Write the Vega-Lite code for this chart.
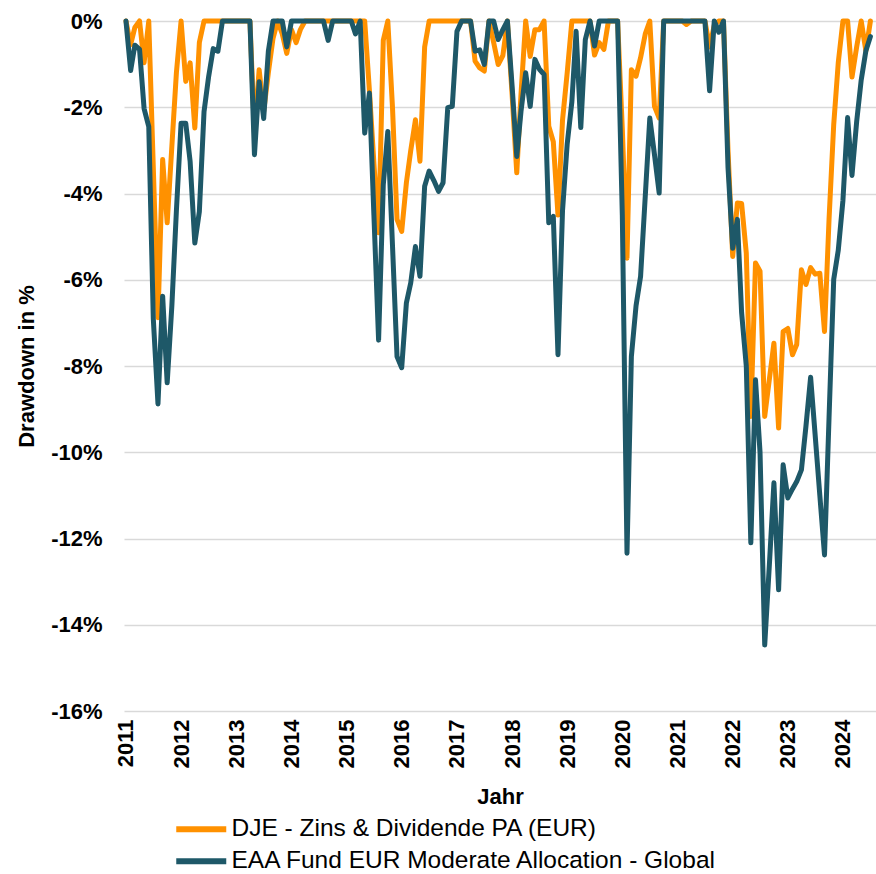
{
  "$schema": "https://vega.github.io/schema/vega-lite/v6.json",
  "autosize": {"type": "none"},
  "width": 752,
  "height": 690,
  "padding": {"left": 124, "top": 21, "right": 0, "bottom": 163},
  "background": "white",
  "config": {
    "font": "Liberation Sans",
    "view": {"stroke": null},
    "axis": {"labelColor": "#000000", "titleColor": "#000000", "labelFont": "Liberation Sans", "titleFont": "Liberation Sans"}
  },
  "data": {"values": [
    {"d":"2011-01-01","DJE":0,"EAA":0},
    {"d":"2011-02-01","DJE":-0.55,"EAA":-1.15},
    {"d":"2011-03-01","DJE":-0.15,"EAA":-0.56},
    {"d":"2011-04-01","DJE":0,"EAA":-0.66},
    {"d":"2011-05-01","DJE":-0.97,"EAA":-2.03},
    {"d":"2011-06-01","DJE":0,"EAA":-2.45},
    {"d":"2011-07-01","DJE":-3.4,"EAA":-6.9},
    {"d":"2011-08-01","DJE":-6.88,"EAA":-8.88},
    {"d":"2011-09-01","DJE":-3.21,"EAA":-6.38},
    {"d":"2011-10-01","DJE":-4.68,"EAA":-8.39},
    {"d":"2011-11-01","DJE":-2.9,"EAA":-6.6},
    {"d":"2011-12-01","DJE":-1.2,"EAA":-4.4},
    {"d":"2012-01-01","DJE":0,"EAA":-2.37},
    {"d":"2012-02-01","DJE":-1.4,"EAA":-2.37},
    {"d":"2012-03-01","DJE":-0.97,"EAA":-3.26},
    {"d":"2012-04-01","DJE":-2.48,"EAA":-5.15},
    {"d":"2012-05-01","DJE":-0.5,"EAA":-4.42},
    {"d":"2012-06-01","DJE":0,"EAA":-2.1},
    {"d":"2012-07-01","DJE":0,"EAA":-1.3},
    {"d":"2012-08-01","DJE":0,"EAA":-0.64},
    {"d":"2012-09-01","DJE":0,"EAA":-0.7},
    {"d":"2012-10-01","DJE":0,"EAA":0},
    {"d":"2012-11-01","DJE":0,"EAA":0},
    {"d":"2012-12-01","DJE":0,"EAA":0},
    {"d":"2013-01-01","DJE":0,"EAA":0},
    {"d":"2013-02-01","DJE":0,"EAA":0},
    {"d":"2013-03-01","DJE":0,"EAA":0},
    {"d":"2013-04-01","DJE":0,"EAA":0},
    {"d":"2013-05-01","DJE":-2.6,"EAA":-3.1},
    {"d":"2013-06-01","DJE":-1.13,"EAA":-1.41},
    {"d":"2013-07-01","DJE":-2.1,"EAA":-2.26},
    {"d":"2013-08-01","DJE":-1.2,"EAA":-0.7},
    {"d":"2013-09-01","DJE":-0.4,"EAA":0},
    {"d":"2013-10-01","DJE":0,"EAA":0},
    {"d":"2013-11-01","DJE":-0.3,"EAA":0},
    {"d":"2013-12-01","DJE":-0.75,"EAA":-0.6},
    {"d":"2014-01-01","DJE":-0.2,"EAA":0},
    {"d":"2014-02-01","DJE":-0.5,"EAA":0},
    {"d":"2014-03-01","DJE":-0.2,"EAA":0},
    {"d":"2014-04-01","DJE":0,"EAA":0},
    {"d":"2014-05-01","DJE":0,"EAA":0},
    {"d":"2014-06-01","DJE":0,"EAA":0},
    {"d":"2014-07-01","DJE":0,"EAA":0},
    {"d":"2014-08-01","DJE":0,"EAA":0},
    {"d":"2014-09-01","DJE":0,"EAA":-0.45},
    {"d":"2014-10-01","DJE":0,"EAA":0},
    {"d":"2014-11-01","DJE":0,"EAA":0},
    {"d":"2014-12-01","DJE":0,"EAA":0},
    {"d":"2015-01-01","DJE":0,"EAA":0},
    {"d":"2015-02-01","DJE":0,"EAA":0},
    {"d":"2015-03-01","DJE":0,"EAA":-0.3},
    {"d":"2015-04-01","DJE":0,"EAA":0},
    {"d":"2015-05-01","DJE":0,"EAA":-2.6},
    {"d":"2015-06-01","DJE":-1.6,"EAA":-1.67},
    {"d":"2015-07-01","DJE":-3.3,"EAA":-4.5},
    {"d":"2015-08-01","DJE":-4.91,"EAA":-7.4},
    {"d":"2015-09-01","DJE":-0.45,"EAA":-3.8},
    {"d":"2015-10-01","DJE":0,"EAA":-2.56},
    {"d":"2015-11-01","DJE":-2.0,"EAA":-5.2},
    {"d":"2015-12-01","DJE":-4.6,"EAA":-7.78},
    {"d":"2016-01-01","DJE":-4.88,"EAA":-8.04},
    {"d":"2016-02-01","DJE":-3.75,"EAA":-6.54},
    {"d":"2016-03-01","DJE":-3.0,"EAA":-6.07},
    {"d":"2016-04-01","DJE":-2.29,"EAA":-5.23},
    {"d":"2016-05-01","DJE":-3.25,"EAA":-5.92},
    {"d":"2016-06-01","DJE":-0.6,"EAA":-3.83},
    {"d":"2016-07-01","DJE":0,"EAA":-3.48},
    {"d":"2016-08-01","DJE":0,"EAA":-3.7},
    {"d":"2016-09-01","DJE":0,"EAA":-3.95},
    {"d":"2016-10-01","DJE":0,"EAA":-3.75},
    {"d":"2016-11-01","DJE":0,"EAA":-2.01},
    {"d":"2016-12-01","DJE":0,"EAA":-1.98},
    {"d":"2017-01-01","DJE":0,"EAA":-0.24},
    {"d":"2017-02-01","DJE":0,"EAA":0},
    {"d":"2017-03-01","DJE":0,"EAA":0},
    {"d":"2017-04-01","DJE":0,"EAA":0},
    {"d":"2017-05-01","DJE":-0.93,"EAA":-0.7},
    {"d":"2017-06-01","DJE":-1.09,"EAA":-0.67},
    {"d":"2017-07-01","DJE":-1.16,"EAA":-1.01},
    {"d":"2017-08-01","DJE":0,"EAA":0},
    {"d":"2017-09-01","DJE":-0.5,"EAA":0},
    {"d":"2017-10-01","DJE":-1.01,"EAA":-0.43},
    {"d":"2017-11-01","DJE":-0.8,"EAA":-0.2},
    {"d":"2017-12-01","DJE":0,"EAA":0},
    {"d":"2018-01-01","DJE":-1.7,"EAA":-1.5},
    {"d":"2018-02-01","DJE":-3.52,"EAA":-3.14},
    {"d":"2018-03-01","DJE":-1.7,"EAA":-2.1},
    {"d":"2018-04-01","DJE":0,"EAA":-1.2},
    {"d":"2018-05-01","DJE":-0.82,"EAA":-1.98},
    {"d":"2018-06-01","DJE":-0.2,"EAA":-0.89},
    {"d":"2018-07-01","DJE":-0.2,"EAA":-1.12},
    {"d":"2018-08-01","DJE":0,"EAA":-1.24},
    {"d":"2018-09-01","DJE":-2.44,"EAA":-4.68},
    {"d":"2018-10-01","DJE":-2.8,"EAA":-4.53},
    {"d":"2018-11-01","DJE":-4.5,"EAA":-7.74},
    {"d":"2018-12-01","DJE":-2.3,"EAA":-4.4},
    {"d":"2019-01-01","DJE":-1.2,"EAA":-2.85},
    {"d":"2019-02-01","DJE":0,"EAA":-1.87},
    {"d":"2019-03-01","DJE":0,"EAA":-0.24},
    {"d":"2019-04-01","DJE":0,"EAA":-2.47},
    {"d":"2019-05-01","DJE":0,"EAA":-0.43},
    {"d":"2019-06-01","DJE":0,"EAA":0},
    {"d":"2019-07-01","DJE":-0.79,"EAA":-0.58},
    {"d":"2019-08-01","DJE":-0.5,"EAA":0},
    {"d":"2019-09-01","DJE":-0.66,"EAA":0},
    {"d":"2019-10-01","DJE":0,"EAA":0},
    {"d":"2019-11-01","DJE":0,"EAA":0},
    {"d":"2019-12-01","DJE":0,"EAA":0},
    {"d":"2020-01-01","DJE":-2.5,"EAA":-4.5},
    {"d":"2020-02-01","DJE":-5.5,"EAA":-12.34},
    {"d":"2020-03-01","DJE":-1.13,"EAA":-7.78},
    {"d":"2020-04-01","DJE":-1.28,"EAA":-6.6},
    {"d":"2020-05-01","DJE":-0.85,"EAA":-5.92},
    {"d":"2020-06-01","DJE":-0.3,"EAA":-4.06},
    {"d":"2020-07-01","DJE":0,"EAA":-2.25},
    {"d":"2020-08-01","DJE":-1.98,"EAA":-3.1},
    {"d":"2020-09-01","DJE":-2.25,"EAA":-3.99},
    {"d":"2020-10-01","DJE":0,"EAA":0},
    {"d":"2020-11-01","DJE":0,"EAA":0},
    {"d":"2020-12-01","DJE":0,"EAA":0},
    {"d":"2021-01-01","DJE":0,"EAA":0},
    {"d":"2021-02-01","DJE":0,"EAA":0},
    {"d":"2021-03-01","DJE":-0.08,"EAA":0},
    {"d":"2021-04-01","DJE":0,"EAA":0},
    {"d":"2021-05-01","DJE":0,"EAA":0},
    {"d":"2021-06-01","DJE":0,"EAA":0},
    {"d":"2021-07-01","DJE":0,"EAA":0},
    {"d":"2021-08-01","DJE":-0.6,"EAA":-1.62},
    {"d":"2021-09-01","DJE":-0.1,"EAA":0},
    {"d":"2021-10-01","DJE":0,"EAA":-0.26},
    {"d":"2021-11-01","DJE":0,"EAA":0},
    {"d":"2021-12-01","DJE":-3.0,"EAA":-3.4},
    {"d":"2022-01-01","DJE":-5.46,"EAA":-5.27},
    {"d":"2022-02-01","DJE":-4.22,"EAA":-4.6},
    {"d":"2022-03-01","DJE":-4.23,"EAA":-6.76},
    {"d":"2022-04-01","DJE":-5.38,"EAA":-8.0},
    {"d":"2022-05-01","DJE":-9.17,"EAA":-12.1},
    {"d":"2022-06-01","DJE":-5.61,"EAA":-8.32},
    {"d":"2022-07-01","DJE":-5.8,"EAA":-10.0},
    {"d":"2022-08-01","DJE":-9.17,"EAA":-14.47},
    {"d":"2022-09-01","DJE":-8.3,"EAA":-12.6},
    {"d":"2022-10-01","DJE":-7.47,"EAA":-10.71},
    {"d":"2022-11-01","DJE":-9.44,"EAA":-13.19},
    {"d":"2022-12-01","DJE":-7.2,"EAA":-10.29},
    {"d":"2023-01-01","DJE":-7.13,"EAA":-11.06},
    {"d":"2023-02-01","DJE":-7.74,"EAA":-10.85},
    {"d":"2023-03-01","DJE":-7.5,"EAA":-10.68},
    {"d":"2023-04-01","DJE":-5.77,"EAA":-10.41},
    {"d":"2023-05-01","DJE":-6.11,"EAA":-9.4},
    {"d":"2023-06-01","DJE":-5.72,"EAA":-8.26},
    {"d":"2023-07-01","DJE":-5.87,"EAA":-9.6},
    {"d":"2023-08-01","DJE":-5.85,"EAA":-11.0},
    {"d":"2023-09-01","DJE":-7.2,"EAA":-12.38},
    {"d":"2023-10-01","DJE":-4.6,"EAA":-9.2},
    {"d":"2023-11-01","DJE":-2.4,"EAA":-5.99},
    {"d":"2023-12-01","DJE":-0.97,"EAA":-5.32},
    {"d":"2024-01-01","DJE":0,"EAA":-4.16},
    {"d":"2024-02-01","DJE":0,"EAA":-2.24},
    {"d":"2024-03-01","DJE":-1.3,"EAA":-3.58},
    {"d":"2024-04-01","DJE":-0.6,"EAA":-2.33},
    {"d":"2024-05-01","DJE":0,"EAA":-1.37},
    {"d":"2024-06-01","DJE":-0.69,"EAA":-0.69},
    {"d":"2024-07-01","DJE":0,"EAA":-0.36}
  ]},
  "encoding": {
    "x": {
      "field": "d", "type": "temporal",
      "scale": {"type": "utc", "domain": [{"year": 2010, "month": 12, "date": 19, "utc": true}, {"year": 2024, "month": 8, "date": 7, "utc": true}]},
      "axis": {
        "title": "Jahr", "titleFontSize": 22, "titleFontWeight": "bold", "titlePadding": 19,
        "format": "%Y", "labelAngle": 270, "labelFontSize": 22, "labelFontWeight": "bold", "labelPadding": 8,
        "values": [
          {"year": 2011, "month": 1, "date": 1, "utc": true}, {"year": 2012, "month": 1, "date": 1, "utc": true},
          {"year": 2013, "month": 1, "date": 1, "utc": true}, {"year": 2014, "month": 1, "date": 1, "utc": true},
          {"year": 2015, "month": 1, "date": 1, "utc": true}, {"year": 2016, "month": 1, "date": 1, "utc": true},
          {"year": 2017, "month": 1, "date": 1, "utc": true}, {"year": 2018, "month": 1, "date": 1, "utc": true},
          {"year": 2019, "month": 1, "date": 1, "utc": true}, {"year": 2020, "month": 1, "date": 1, "utc": true},
          {"year": 2021, "month": 1, "date": 1, "utc": true}, {"year": 2022, "month": 1, "date": 1, "utc": true},
          {"year": 2023, "month": 1, "date": 1, "utc": true}, {"year": 2024, "month": 1, "date": 1, "utc": true}
        ],
        "grid": false, "domain": false, "ticks": false, "labelOverlap": false
      }
    }
  },
  "layer": [
    {
      "mark": {"type": "line", "strokeWidth": 5, "strokeJoin": "round", "strokeCap": "round"},
      "encoding": {
        "y": {
          "field": "DJE", "type": "quantitative",
          "scale": {"domain": [-16, 0], "nice": false, "zero": false},
          "axis": {
            "title": "Drawdown in %", "titleFontSize": 22, "titleFontWeight": "bold", "titlePadding": 12,
            "values": [-16, -14, -12, -10, -8, -6, -4, -2, 0],
            "labelExpr": "datum.value + '%'", "labelFontSize": 22, "labelFontWeight": "bold", "labelPadding": 22,
            "grid": true, "gridColor": "#D9D9D9", "gridWidth": 1.5, "domain": false, "ticks": false
          }
        },
        "color": {
          "datum": "DJE",
          "scale": {"domain": ["DJE", "EAA"], "range": ["#FF9100", "#1E5868"]},
          "legend": {
            "orient": "none", "legendX": 65, "legendY": 796, "title": null, "direction": "vertical",
            "symbolType": "M-5,0H5", "symbolSize": 100, "symbolStrokeWidth": 6,
            "labelFontSize": 24.5, "labelFont": "Liberation Sans", "labelColor": "#000000", "labelLimit": 0, "labelOffset": 18,
            "rowPadding": 6, "padding": 0,
            "labelExpr": "datum.label == 'DJE' ? 'DJE - Zins & Dividende PA (EUR)' : 'EAA Fund EUR Moderate Allocation - Global'"
          }
        }
      }
    },
    {
      "mark": {"type": "line", "strokeWidth": 5, "strokeJoin": "round", "strokeCap": "round"},
      "encoding": {
        "y": {"field": "EAA", "type": "quantitative"},
        "color": {"datum": "EAA"}
      }
    }
  ]
}
